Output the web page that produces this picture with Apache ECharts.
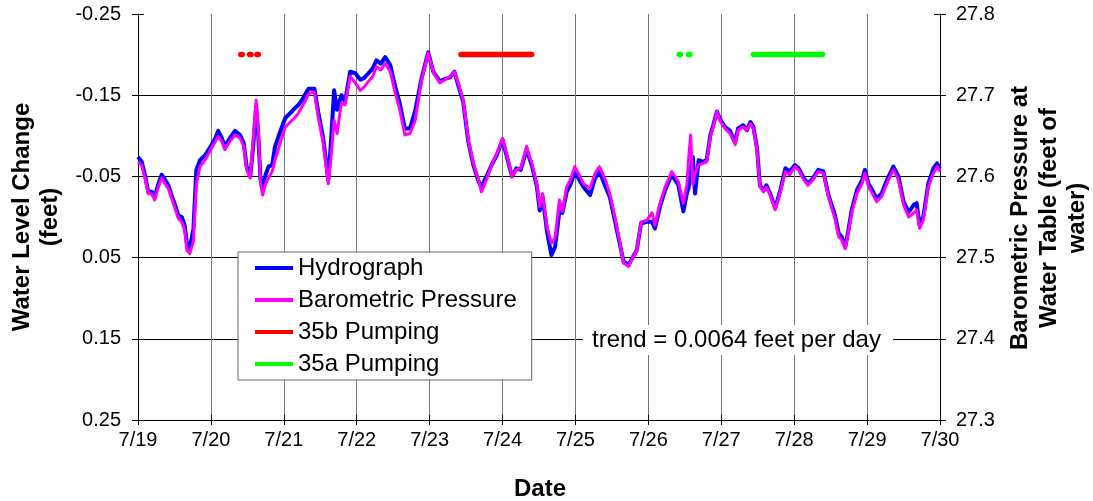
<!DOCTYPE html>
<html>
<head>
<meta charset="utf-8">
<script src="https://cdn.jsdelivr.net/npm/echarts@6/dist/echarts.min.js"></script>
<style>
  html, body { margin: 0; padding: 0; background: #fff; }
  #chart { width: 1093px; height: 501px; }
</style>
</head>
<body>
<div id="chart"></div>
<script>
// Day labels along the bottom axis (0 = 7/19 00:00)
const dayLabels = ['7/19', '7/20', '7/21', '7/22', '7/23', '7/24', '7/25', '7/26', '7/27', '7/28', '7/29', '7/30'];

// Sample times, in days since 7/19
const sampleDays = [
  0.00, 0.05, 0.10, 0.14, 0.19, 0.23, 0.28, 0.325, 0.37, 0.416, 0.46, 0.50, 0.553, 0.60, 0.64, 0.67, 0.71, 0.76, 0.80, 0.85,
  0.92, 1.01, 1.06, 1.10, 1.15, 1.19, 1.26, 1.33, 1.40, 1.45, 1.49, 1.54, 1.58, 1.62, 1.65, 1.68, 1.71, 1.75, 1.79, 1.84,
  1.88, 1.95, 2.02, 2.09, 2.15, 2.20, 2.25, 2.30, 2.34, 2.42, 2.47, 2.54, 2.61, 2.64, 2.69, 2.73, 2.79, 2.84, 2.91, 2.98,
  3.05, 3.10, 3.16, 3.22, 3.27, 3.33, 3.39, 3.46, 3.53, 3.59, 3.66, 3.73, 3.80, 3.89, 3.98, 4.05, 4.14, 4.21, 4.28, 4.34,
  4.39, 4.46, 4.53, 4.60, 4.67, 4.71, 4.78, 4.85, 4.92, 5.00, 5.06, 5.13, 5.19, 5.25, 5.33, 5.40, 5.47, 5.51, 5.55, 5.61,
  5.67, 5.72, 5.78, 5.82, 5.88, 5.93, 5.99, 6.04, 6.11, 6.20, 6.27, 6.33, 6.41, 6.47, 6.54, 6.61, 6.66, 6.73, 6.79, 6.84,
  6.90, 6.98, 7.05, 7.09, 7.16, 7.23, 7.32, 7.41, 7.48, 7.53, 7.55, 7.58, 7.61, 7.64, 7.69, 7.75, 7.80, 7.85, 7.89, 7.94,
  7.98, 8.05, 8.12, 8.19, 8.23, 8.30, 8.35, 8.40, 8.44, 8.49, 8.53, 8.58, 8.62, 8.67, 8.74, 8.81, 8.88, 8.94, 9.01, 9.06,
  9.13, 9.19, 9.26, 9.33, 9.40, 9.47, 9.56, 9.61, 9.65, 9.70, 9.74, 9.79, 9.86, 9.93, 9.97, 10.02, 10.06, 10.13, 10.20, 10.27,
  10.36, 10.43, 10.50, 10.57, 10.64, 10.68, 10.72, 10.77, 10.84, 10.91, 10.96, 11.00
];

// Water level change, feet (left axis, negative = up)
const hydrograph = [
  -0.074, -0.068, -0.050, -0.031, -0.031, -0.025, -0.041, -0.052, -0.046, -0.039, -0.027, -0.017, -0.002, 0.000, 0.010, 0.032, 0.039, 0.015, -0.058, -0.070,
  -0.076, -0.089, -0.097, -0.106, -0.097, -0.087, -0.097, -0.106, -0.101, -0.091, -0.062, -0.050, -0.087, -0.136, -0.100, -0.046, -0.037, -0.052, -0.062, -0.064,
  -0.087, -0.105, -0.122, -0.128, -0.134, -0.138, -0.144, -0.152, -0.158, -0.158, -0.130, -0.097, -0.046, -0.083, -0.156, -0.132, -0.150, -0.142, -0.179, -0.177,
  -0.169, -0.171, -0.177, -0.183, -0.193, -0.189, -0.197, -0.187, -0.160, -0.140, -0.109, -0.109, -0.130, -0.171, -0.203, -0.179, -0.167, -0.170, -0.172, -0.179,
  -0.163, -0.142, -0.093, -0.064, -0.044, -0.037, -0.050, -0.064, -0.076, -0.095, -0.074, -0.050, -0.060, -0.058, -0.083, -0.064, -0.038, -0.008, -0.025, 0.018,
  0.047, 0.037, -0.007, -0.005, -0.031, -0.040, -0.054, -0.048, -0.037, -0.027, -0.048, -0.056, -0.038, -0.025, 0.004, 0.034, 0.055, 0.059, 0.049, 0.041,
  0.008, 0.006, 0.006, 0.014, -0.013, -0.033, -0.052, -0.040, -0.007, -0.030, -0.035, -0.056, -0.074, -0.029, -0.070, -0.068, -0.070, -0.101, -0.113, -0.130,
  -0.121, -0.111, -0.106, -0.092, -0.109, -0.113, -0.107, -0.117, -0.111, -0.085, -0.039, -0.033, -0.039, -0.029, -0.011, -0.033, -0.060, -0.056, -0.064, -0.060,
  -0.048, -0.041, -0.048, -0.058, -0.056, -0.027, -0.002, 0.020, 0.024, 0.037, 0.018, -0.009, -0.033, -0.045, -0.058, -0.041, -0.035, -0.023, -0.029, -0.045,
  -0.062, -0.050, -0.019, -0.006, -0.015, -0.017, 0.010, 0.000, -0.041, -0.060, -0.066, -0.060
];

// Barometric pressure at the water table, feet of water (right axis)
const barometricPressure = [
  27.618, 27.614, 27.596, 27.579, 27.578, 27.571, 27.587, 27.598, 27.591, 27.585, 27.573, 27.563, 27.548, 27.544, 27.534, 27.509, 27.505, 27.520, 27.590, 27.612,
  27.620, 27.635, 27.643, 27.649, 27.643, 27.633, 27.643, 27.651, 27.647, 27.637, 27.608, 27.598, 27.645, 27.694, 27.661, 27.591, 27.577, 27.591, 27.598, 27.606,
  27.620, 27.641, 27.661, 27.667, 27.672, 27.678, 27.686, 27.694, 27.702, 27.704, 27.674, 27.641, 27.591, 27.616, 27.669, 27.653, 27.690, 27.688, 27.723, 27.715,
  27.706, 27.710, 27.717, 27.723, 27.735, 27.731, 27.739, 27.729, 27.702, 27.682, 27.651, 27.653, 27.668, 27.719, 27.752, 27.729, 27.715, 27.719, 27.723, 27.729,
  27.715, 27.694, 27.645, 27.616, 27.596, 27.581, 27.596, 27.614, 27.628, 27.647, 27.626, 27.600, 27.608, 27.610, 27.637, 27.616, 27.591, 27.563, 27.579, 27.538,
  27.518, 27.524, 27.571, 27.557, 27.587, 27.596, 27.612, 27.604, 27.591, 27.585, 27.604, 27.612, 27.596, 27.579, 27.550, 27.518, 27.493, 27.489, 27.501, 27.509,
  27.544, 27.546, 27.555, 27.540, 27.567, 27.587, 27.606, 27.594, 27.567, 27.591, 27.620, 27.651, 27.590, 27.604, 27.614, 27.616, 27.618, 27.649, 27.661, 27.680,
  27.669, 27.659, 27.653, 27.639, 27.657, 27.661, 27.657, 27.665, 27.659, 27.633, 27.587, 27.581, 27.587, 27.577, 27.559, 27.581, 27.606, 27.602, 27.612, 27.608,
  27.596, 27.589, 27.596, 27.606, 27.604, 27.575, 27.548, 27.526, 27.522, 27.511, 27.530, 27.555, 27.579, 27.591, 27.604, 27.587, 27.581, 27.569, 27.575, 27.591,
  27.608, 27.596, 27.565, 27.550, 27.555, 27.559, 27.536, 27.546, 27.587, 27.604, 27.612, 27.606
];

// Pumping periods [start, end], days since 7/19
const pumping35b = [[1.41, 1.43], [1.53, 1.55], [1.63, 1.65], [4.43, 5.40]];
const pumping35a = [[7.42, 7.44], [7.55, 7.57], [8.44, 9.39]];
// Level (left axis) at which the pumping bars are drawn
const pumpingLevel = -0.2;

const trendNote = 'trend = 0.0064 feet per day';

const FONT = '"Liberation Sans", Arial, Helvetica, sans-serif';

function pairs(xs, ys) {
  return xs.map((x, i) => [x, ys[i]]);
}
function periodsToLine(periods, level) {
  const out = [];
  periods.forEach(([s, e]) => {
    out.push([s, level], [e, level], [e, '-']);
  });
  return out;
}

const chart = echarts.init(document.getElementById('chart'), null, { renderer: 'canvas' });

const baseAxisText = { fontFamily: FONT, fontSize: 20, color: '#000' };

chart.setOption({
  animation: false,
  backgroundColor: '#fff',
  grid: { left: 138, right: 153, top: 14, bottom: 81, containLabel: false },
  xAxis: [
    {
      type: 'value', min: 0, max: 11, interval: 1, position: 'bottom',
      axisLine: { onZero: false, lineStyle: { color: '#000', width: 1 } },
      axisTick: { length: 5, lineStyle: { color: '#000' } },
      axisLabel: Object.assign({ margin: 10, formatter: v => dayLabels[Math.round(v)] }, baseAxisText),
      splitLine: { show: true, lineStyle: { color: '#777', width: 1 } }
    },
    {
      type: 'value', min: 0, max: 11, interval: 1, position: 'bottom',
      axisLine: { show: false, onZero: false },
      axisTick: { inside: true, length: 5, lineStyle: { color: '#000' } },
      axisLabel: { show: false },
      splitLine: { show: false }
    }
  ],
  yAxis: [
    {
      type: 'value', min: -0.25, max: 0.25, interval: 0.1, inverse: true, position: 'left',
      axisLine: { show: true, onZero: false, lineStyle: { color: '#000', width: 1 } },
      axisTick: { show: true, length: 6, lineStyle: { color: '#000' } },
      axisLabel: Object.assign({ margin: 17, formatter: v => v.toFixed(2) }, baseAxisText),
      splitLine: { show: true, showMinLine: false, showMaxLine: false, lineStyle: { color: '#000', width: 1 } }
    },
    {
      type: 'value', min: 27.3, max: 27.8, interval: 0.1, position: 'right',
      axisLine: { show: true, onZero: false, lineStyle: { color: '#000', width: 1 } },
      axisTick: { show: true, length: 6, lineStyle: { color: '#000' } },
      axisLabel: Object.assign({ margin: 16, formatter: v => v.toFixed(1) }, baseAxisText),
      splitLine: { show: false }
    },
    {
      type: 'value', min: -0.25, max: 0.25, interval: 0.1, inverse: true, position: 'left',
      axisLine: { show: false, onZero: false },
      axisTick: { show: true, inside: true, length: 6, lineStyle: { color: '#000' } },
      axisLabel: { show: false },
      splitLine: { show: false }
    },
    {
      type: 'value', min: 27.3, max: 27.8, interval: 0.1, position: 'right',
      axisLine: { show: false, onZero: false },
      axisTick: { show: true, inside: true, length: 6, lineStyle: { color: '#000' } },
      axisLabel: { show: false },
      splitLine: { show: false }
    }
  ],
  legend: {
    orient: 'vertical',
    left: 238, top: 252,
    padding: [4, 15, 4, 17],
    backgroundColor: '#fff',
    borderColor: '#666', borderWidth: 1,
    itemWidth: 38, itemHeight: 4, itemGap: 8,
    icon: 'rect',
    textStyle: { fontFamily: FONT, fontSize: 24, color: '#000', lineHeight: 24 },
    data: ['Hydrograph', 'Barometric Pressure', '35b Pumping', '35a Pumping']
  },
  series: [
    {
      name: 'Hydrograph', type: 'line', xAxisIndex: 0, yAxisIndex: 0,
      data: pairs(sampleDays, hydrograph),
      showSymbol: false, symbol: 'none', color: '#0000ff',
      lineStyle: { color: '#0000ff', width: 4, join: 'round' }, z: 3
    },
    {
      name: 'Barometric Pressure', type: 'line', xAxisIndex: 0, yAxisIndex: 1,
      data: pairs(sampleDays, barometricPressure),
      showSymbol: false, symbol: 'none', color: '#ff00ff',
      lineStyle: { color: '#ff00ff', width: 3, join: 'round' }, z: 4
    },
    {
      name: '35b Pumping', type: 'line', xAxisIndex: 0, yAxisIndex: 0,
      data: periodsToLine(pumping35b, pumpingLevel), connectNulls: false,
      showSymbol: false, symbol: 'none', color: '#ff0000',
      lineStyle: { color: '#ff0000', width: 5.5, cap: 'round' }, z: 5
    },
    {
      name: '35a Pumping', type: 'line', xAxisIndex: 0, yAxisIndex: 0,
      data: periodsToLine(pumping35a, pumpingLevel), connectNulls: false,
      showSymbol: false, symbol: 'none', color: '#00ff00',
      lineStyle: { color: '#00ff00', width: 5.5, cap: 'round' }, z: 5
    }
  ],
  graphic: [
    {
      type: 'text', x: 36, y: 217, rotation: Math.PI / 2, z: 10,
      style: { text: 'Water Level Change\n(feet)', fontFamily: FONT, fontSize: 24, fontWeight: 'bold', fill: '#000', align: 'center', verticalAlign: 'middle', lineHeight: 28 }
    },
    {
      type: 'text', x: 1049, y: 218, rotation: Math.PI / 2, z: 10,
      style: { text: 'Barometric Pressure at\nWater Table (feet of\nwater)', fontFamily: FONT, fontSize: 24, fontWeight: 'bold', fill: '#000', align: 'center', verticalAlign: 'middle', lineHeight: 28.5 }
    },
    {
      type: 'text', x: 540, y: 489, z: 10,
      style: { text: 'Date', fontFamily: FONT, fontSize: 24, fontWeight: 'bold', fill: '#000', align: 'center', verticalAlign: 'middle' }
    },
    {
      type: 'rect', z: 9, shape: { x: 583, y: 325, width: 310, height: 30 }, style: { fill: '#fff' }
    },
    {
      type: 'text', x: 592, y: 340, z: 10,
      style: { text: trendNote, fontFamily: FONT, fontSize: 24, fill: '#000', align: 'left', verticalAlign: 'middle' }
    }
  ]
});
</script>
</body>
</html>
